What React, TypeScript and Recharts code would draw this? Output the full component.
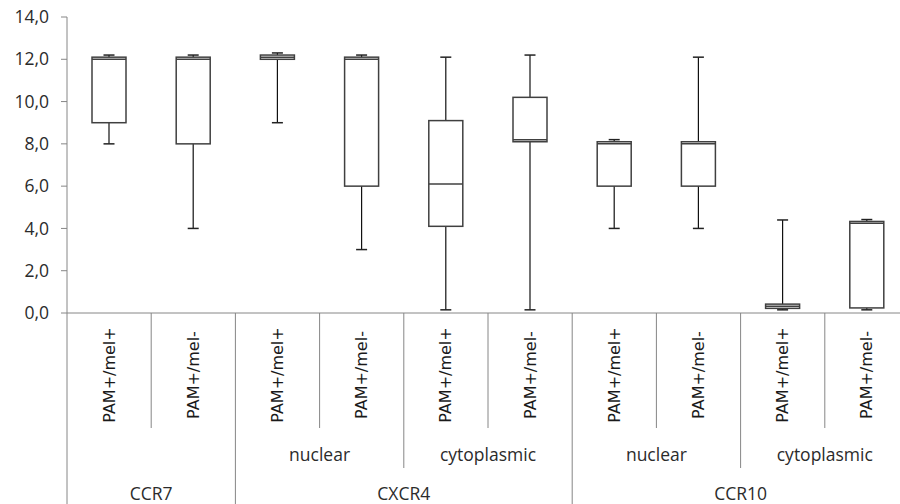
import { ComposedChart, Bar, XAxis, YAxis } from 'recharts';

const samples = [
  'PAM+/mel+', 'PAM+/mel-', 'PAM+/mel+', 'PAM+/mel-', 'PAM+/mel+',
  'PAM+/mel-', 'PAM+/mel+', 'PAM+/mel-', 'PAM+/mel+', 'PAM+/mel-',
];
const compartments = [
  '', '', 'nuclear', 'nuclear', 'cytoplasmic',
  'cytoplasmic', 'nuclear', 'nuclear', 'cytoplasmic', 'cytoplasmic',
];
const markers = [
  'CCR7', 'CCR7', 'CXCR4', 'CXCR4', 'CXCR4',
  'CXCR4', 'CCR10', 'CCR10', 'CCR10', 'CCR10',
];

const minValues = [8.0, 4.0, 9.0, 3.0, 0.15, 0.15, 4.0, 4.0, 0.15, 0.15];
const q1Values = [9.0, 8.0, 12.0, 6.0, 4.1, 8.1, 6.0, 6.0, 0.22, 0.24];
const medianValues = [12.0, 12.0, 12.1, 12.0, 6.1, 8.2, 8.0, 8.0, 0.32, 4.25];
const q3Values = [12.1, 12.1, 12.2, 12.1, 9.1, 10.2, 8.1, 8.1, 0.42, 4.33];
const maxValues = [12.2, 12.2, 12.3, 12.2, 12.1, 12.2, 8.2, 12.1, 4.4, 4.42];

const yTicks = [0, 2, 4, 6, 8, 10, 12, 14];

const data = samples.map((sample, i) => ({
  cat: `${markers[i]} ${compartments[i]} ${sample}`,
  sample,
  min: minValues[i],
  q1: q1Values[i],
  median: medianValues[i],
  q3: q3Values[i],
  max: maxValues[i],
}));

const AXIS = '#868686';
const TEXT = '#2b2b2b';
const LABEL_FONT = '"Open Sans", Lato, sans-serif';

// box + whiskers drawn inside the [min, max] range bar the library lays out
const BoxShape = (props: any) => {
  const { x, y, width, height, payload } = props;
  if (payload == null || height == null) return null;
  const top = Math.min(y, y + height);
  const bottom = Math.max(y, y + height);
  const span = payload.max - payload.min;
  const perUnit = span > 0 ? (bottom - top) / span : 0;
  const yOf = (v: number) => bottom - (v - payload.min) * perUnit;
  const cx = x + width / 2;
  const cap = 5.5;
  const yQ1 = yOf(payload.q1);
  const yQ3 = yOf(payload.q3);
  const yMed = yOf(payload.median);
  return (
    <g>
      <line x1={cx} x2={cx} y1={top} y2={bottom} stroke="#111" strokeWidth={1.2} />
      <line x1={cx - cap} x2={cx + cap} y1={top} y2={top} stroke="#222" strokeWidth={1.5} />
      <line x1={cx - cap} x2={cx + cap} y1={bottom} y2={bottom} stroke="#222" strokeWidth={1.5} />
      <rect x={x} y={yQ3} width={width} height={Math.max(yQ1 - yQ3, 0.5)} fill="#fff" stroke="#404040" strokeWidth={1.5} />
      <line x1={x} x2={x + width} y1={yMed} y2={yMed} stroke="#404040" strokeWidth={1.5} />
    </g>
  );
};

const runLength = (list: string[], start: number, alsoSame?: string[]) => {
  let n = 1;
  while (
    start + n < list.length &&
    list[start + n] === list[start] &&
    (!alsoSame || alsoSame[start + n] === alsoSame[start])
  ) n++;
  return n;
};

const CategoryTick = (props: any) => {
  const { x, y, payload } = props;
  const i: number = payload.index;
  const half: number = payload.offset || 42.1;
  const left = x - half;
  const full = 191;

  let lineLen = 115;
  if (i === 0 || markers[i] !== markers[i - 1]) lineLen = full;
  else if (compartments[i] !== compartments[i - 1]) lineLen = 155;

  const startsCompartment =
    compartments[i] !== '' &&
    (i === 0 || compartments[i] !== compartments[i - 1] || markers[i] !== markers[i - 1]);
  const startsMarker = i === 0 || markers[i] !== markers[i - 1];

  const labelY = y + 62;
  return (
    <g>
      <line x1={left} x2={left} y1={y} y2={y + lineLen} stroke={AXIS} strokeWidth={1} />
      {i === samples.length - 1 && (
        <line x1={x + half} x2={x + half} y1={y} y2={y + full} stroke={AXIS} strokeWidth={1} />
      )}
      <text
        x={x}
        y={labelY}
        transform={`rotate(-90, ${x}, ${labelY})`}
        textAnchor="middle"
        dominantBaseline="central"
        fontFamily='"DejaVu Sans", Verdana, sans-serif'
        fontSize={16}
        fill="#1a1a1a"
      >
        {samples[i]}
      </text>
      {startsCompartment && (
        <text
          x={left + runLength(compartments, i, markers) * half}
          y={y + 141}
          textAnchor="middle"
          dominantBaseline="central"
          fontFamily={LABEL_FONT}
          fontSize={17.5}
          fill={TEXT}
        >
          {compartments[i]}
        </text>
      )}
      {startsMarker && (
        <text
          x={left + runLength(markers, i) * half}
          y={y + 180}
          textAnchor="middle"
          dominantBaseline="central"
          fontFamily={LABEL_FONT}
          fontSize={17.5}
          fill={TEXT}
        >
          {markers[i]}
        </text>
      )}
    </g>
  );
};

const App = () => {
  return (
    <div
      style={{
        position: 'absolute',
        left: 0,
        top: 0,
        width: 900,
        height: 504,
        overflow: 'hidden',
        background: '#fff',
      }}
    >
      <ComposedChart
        width={920}
        height={504}
        data={data}
        margin={{ top: 17, right: 11, bottom: 0, left: 0 }}
      >
        <YAxis
          type="number"
          domain={[0, 14]}
          ticks={yTicks}
          interval={0}
          width={67}
          tickSize={6}
          tickMargin={12}
          stroke={AXIS}
          tickLine={{ stroke: AXIS }}
          axisLine={{ stroke: AXIS }}
          tick={{ fill: TEXT, fontSize: 17.5, fontFamily: LABEL_FONT }}
          tickFormatter={(v: number) => v.toFixed(1).replace('.', ',')}
        />
        <XAxis
          dataKey="cat"
          type="category"
          interval={0}
          height={191}
          tickSize={0}
          tickMargin={0}
          tickLine={false}
          axisLine={{ stroke: AXIS }}
          tick={<CategoryTick />}
        />
        <Bar
          dataKey={(d: any) => [d.min, d.max]}
          barSize={34}
          shape={<BoxShape />}
          isAnimationActive={false}
        />
      </ComposedChart>
    </div>
  );
};

export default App;
